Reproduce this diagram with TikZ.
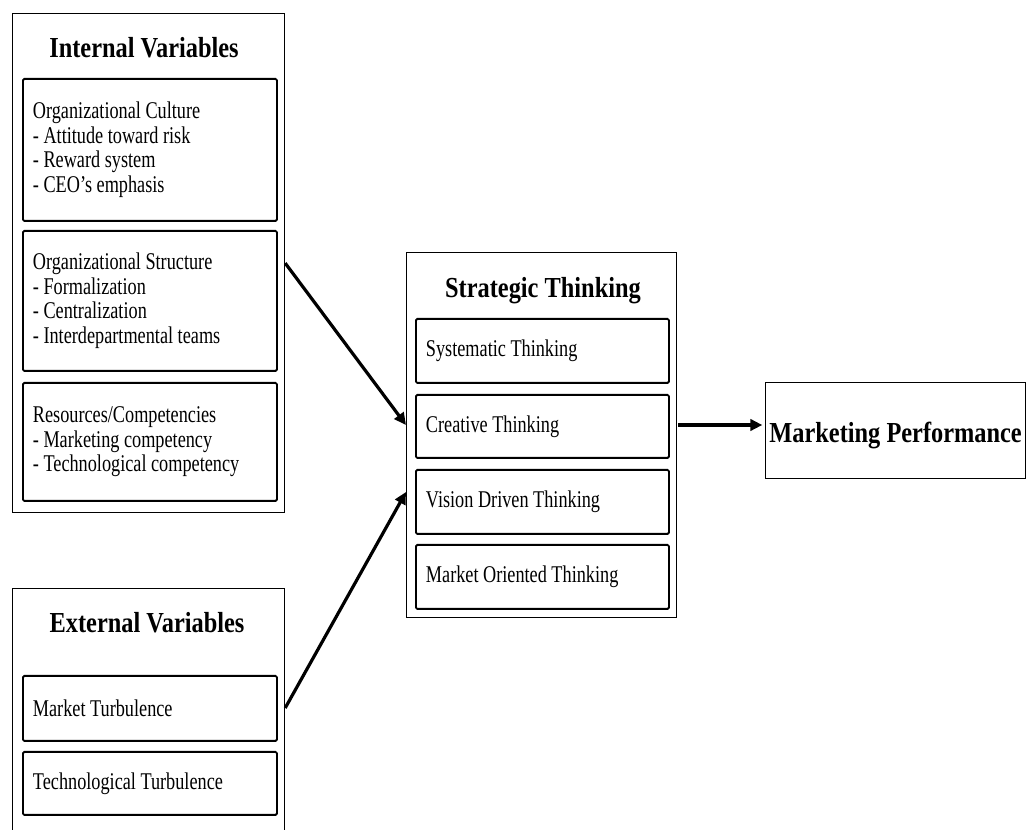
\documentclass[tikz,border=0pt]{standalone}
\usepackage{fontspec}
\setmainfont{Liberation Serif}[FakeStretch=0.76]
\newfontfamily\headfamily{Liberation Serif}[FakeStretch=0.84]
\usetikzlibrary{arrows.meta,calc}
\newcommand{\bodyfont}{\fontsize{18}{18.4}\selectfont\spaceskip=3.4pt plus 1pt minus 0.5pt\relax}
\newcommand{\headfont}{\headfamily\fontsize{21.75}{24}\selectfont\bfseries\spaceskip=4.6pt\relax}
\begin{document}
\begin{tikzpicture}[x=0.75pt,y=-0.75pt,
  outerbox/.style={draw, line width=0.9pt, inner sep=0pt, anchor=north west},
  innerbox/.style={draw, line width=1.4pt, rounded corners=1pt, anchor=north west,
    align=flush left, inner xsep=7.5pt, inner ysep=0pt, font=\bodyfont},
  titletext/.style={font=\headfont, anchor=base, inner sep=0pt},
  link/.style={line width=2.4pt, -{Triangle[length=9pt,width=8.5pt]}}]
\useasboundingbox (0,0) rectangle (1026,830);
\clip (0,0) rectangle (1026,830);

% Internal variables
\node[outerbox, minimum width=204pt, minimum height=374.25pt] (intout) at (12,13) {};
\node[titletext] (inttitle) at (144,58) {Internal Variables};
\node[innerbox, text width=175.5pt, minimum height=106.5pt] (oc) at (22,78)
  {Organizational Culture\\- Attitude toward risk\\- Reward system\\- CEO’s emphasis};
\node[innerbox, text width=175.5pt, minimum height=105pt] (os) at (22,230)
  {Organizational Structure\\- Formalization\\- Centralization\\- Interdepartmental teams};
\node[innerbox, text width=175.5pt, minimum height=88.5pt] (rc) at (22,382)
  {Resources/Competencies\\- Marketing competency\\- Technological competency};

% External variables
\node[outerbox, minimum width=204pt, minimum height=186pt] (extout) at (12,588) {};
\node[titletext] (exttitle) at (147,633) {External Variables};
\node[innerbox, text width=175.5pt, minimum height=48.75pt] (mt) at (22,675) {Market Turbulence};
\node[innerbox, text width=175.5pt, minimum height=47.25pt] (tt) at (22,751) {Technological Turbulence};

% Strategic thinking
\node[outerbox, minimum width=202.5pt, minimum height=273.75pt] (stout) at (406,252) {};
\node[titletext] (sttitle) at (543,298) {Strategic Thinking};
\node[innerbox, text width=174.75pt, minimum height=48pt] (s1) at (415,318) {Systematic Thinking};
\node[innerbox, text width=174.75pt, minimum height=47.25pt] (s2) at (415,394) {Creative Thinking};
\node[innerbox, text width=174.75pt, minimum height=48pt] (s3) at (415,469) {Vision Driven Thinking};
\node[innerbox, text width=174.75pt, minimum height=48pt] (s4) at (415,544) {Market Oriented Thinking};

% Marketing performance
\node[outerbox, minimum width=195pt, minimum height=72pt, inner xsep=2pt,
  text height=18pt, text depth=0pt, font=\headfont] (mp) at (765,382)
  {Marketing Performance};

% Connectors
\draw[link] (intout.east) -- ($(stout.north west)+(0,173)$);
\draw[link] ($(extout.north east)+(0,120)$) -- ($(stout.north west)+(0,240)$);
\draw[link, shorten >=2pt] ($(stout.north east)+(1,173)$) -- ($(mp.north west)+(0,43)$);
\end{tikzpicture}
\end{document}
